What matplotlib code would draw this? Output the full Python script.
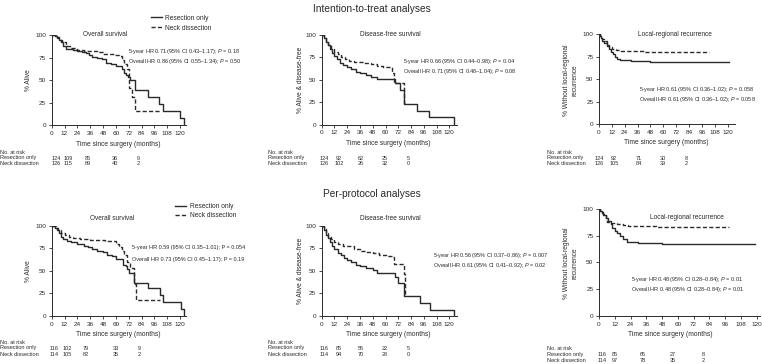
import matplotlib.pyplot as plt

W, H = 762, 364

plt.rcParams['font.family'] = ['Liberation Sans', 'DejaVu Sans']
plt.rcParams['mathtext.fontset'] = 'custom'
plt.rcParams['mathtext.rm'] = 'Liberation Sans'
plt.rcParams['mathtext.it'] = 'Liberation Sans:italic'

INK = '#2a2a2a'

# ---------- values ----------
x_ticks = [0, 12, 24, 36, 48, 60, 72, 84, 96, 108, 120]
y_ticks = [0, 25, 50, 75, 100]
arm_names = ['Resection only', 'Neck dissection']

# Intention-to-treat: overall survival (time in months, % after that time)
itt_os_res_t = [0, 3, 5, 7, 9, 11, 13, 16, 20, 24, 28, 32, 35, 38, 42, 47, 51, 55, 60, 66, 68, 69, 71, 73, 78, 90, 100, 104, 120, 124]
itt_os_res_s = [100, 99, 97, 95, 92, 88, 85, 84, 83, 82, 81, 80, 78, 76, 74, 73, 69, 68, 66, 62, 58, 56, 54, 50, 39, 31, 24, 16, 8, 0]
itt_os_nd_t = [0, 4, 7, 10, 13, 17, 24, 30, 38, 44, 48, 58, 63, 66, 68, 70, 72, 75, 78, 101]
itt_os_nd_s = [100, 98, 95, 92, 88, 86, 83, 82, 82, 81, 79, 78, 77, 72, 68, 62, 41, 31, 16, 16]

# Intention-to-treat: disease-free survival
itt_dfs_res_t = [0, 2, 4, 6, 8, 10, 12, 14, 17, 20, 24, 28, 32, 36, 42, 46, 52, 69, 74, 77, 90, 101, 124]
itt_dfs_res_s = [100, 96, 92, 88, 84, 80, 76, 73, 69, 66, 64, 62, 59, 57, 55, 53, 51, 46, 38, 23, 15, 8, 0]
itt_dfs_nd_t = [0, 2, 4, 6, 9, 12, 15, 18, 22, 26, 30, 40, 46, 52, 58, 66, 68, 77, 78]
itt_dfs_nd_s = [100, 96, 92, 88, 84, 81, 78, 75, 73, 71, 70, 69, 67, 65, 64, 57, 46, 24, 24]

# Intention-to-treat: local-regional recurrence
itt_lrr_res_t = [0, 1, 2, 3, 5, 7, 9, 11, 13, 15, 17, 20, 30, 48, 121]
itt_lrr_res_s = [100, 98, 96, 93, 90, 87, 84, 80, 78, 75, 73, 71, 70, 69, 69]
itt_lrr_nd_t = [0, 1, 3, 5, 7, 9, 12, 16, 20, 42, 103]
itt_lrr_nd_s = [100, 98, 95, 92, 88, 86, 84, 82, 81, 80, 80]

# Per-protocol: overall survival
pp_os_res_t = [0, 3, 5, 7, 9, 11, 14, 18, 24, 30, 34, 38, 42, 48, 52, 56, 60, 67, 69, 70, 72, 77, 90, 101, 104, 121, 124]
pp_os_res_s = [100, 98, 95, 92, 88, 85, 83, 82, 80, 78, 76, 74, 72, 71, 68, 66, 63, 57, 55, 52, 48, 37, 31, 23, 15, 8, 0]
pp_os_nd_t = [0, 4, 6, 9, 12, 16, 20, 26, 36, 44, 50, 60, 63, 66, 68, 70, 73, 77, 79, 101]
pp_os_nd_s = [100, 98, 95, 92, 90, 88, 86, 85, 84, 84, 83, 80, 76, 72, 68, 60, 53, 35, 18, 18]

# Per-protocol: disease-free survival
pp_dfs_res_t = [0, 2, 4, 6, 8, 10, 12, 15, 18, 21, 24, 28, 32, 36, 42, 48, 52, 69, 72, 77, 92, 102, 124]
pp_dfs_res_s = [100, 95, 90, 86, 82, 78, 74, 70, 67, 64, 62, 60, 57, 55, 53, 51, 48, 43, 36, 22, 14, 7, 0]
pp_dfs_nd_t = [0, 2, 4, 6, 9, 12, 15, 20, 24, 30, 36, 42, 48, 54, 60, 66, 68, 77, 78]
pp_dfs_nd_s = [100, 96, 92, 88, 85, 82, 80, 78, 77, 74, 72, 71, 70, 68, 66, 65, 58, 47, 22]

# Per-protocol: local-regional recurrence
pp_lrr_res_t = [0, 1, 2, 3, 5, 7, 9, 10, 12, 14, 16, 18, 21, 30, 48, 119]
pp_lrr_res_s = [100, 98, 96, 94, 91, 89, 86, 82, 79, 77, 75, 72, 69, 68, 67, 67]
pp_lrr_nd_t = [0, 1, 3, 5, 6, 9, 14, 18, 22, 43, 99]
pp_lrr_nd_s = [100, 98, 95, 91, 88, 87, 86, 85, 84, 83, 83]

# numbers at risk
itt_os_risk = [[124, 109, 85, 36, 9], [126, 115, 89, 40, 2]]
itt_dfs_risk = [[124, 92, 62, 25, 5], [126, 102, 26, 32, 0]]
itt_lrr_risk = [[124, 92, 71, 30, 8], [126, 105, 84, 39, 2]]
pp_os_risk = [[116, 102, 79, 33, 9], [114, 105, 82, 35, 2]]
pp_dfs_risk = [[116, 85, 56, 22, 5], [114, 94, 70, 28, 0]]
pp_lrr_risk = [[116, 85, 65, 27, 8], [114, 97, 78, 35, 2]]

itt_hr = [
    ['5-year HR 0.71 (95% CI 0.43–1.17); $P$ = 0.18', 'Overall HR 0.86 (95% CI 0.55–1.34); $P$ = 0.50'],
    ['5-year HR 0.66 (95% CI 0.44–0.98); $P$ = 0.04', 'Overall HR 0.71 (95% CI 0.48–1.04); $P$ = 0.08'],
    ['5-year HR 0.61 (95% CI 0.36–1.02); $P$ = 0.058', 'Overall HR 0.61 (95% CI 0.36–1.02); $P$ = 0.058'],
]
pp_hr = [
    ['5-year HR 0.59 (95% CI 0.35–1.01); P = 0.054', 'Overall HR 0.73 (95% CI 0.45–1.17); P = 0.19'],
    ['5-year HR 0.56 (95% CI 0.37–0.86); $P$ = 0.007', 'Overall HR 0.61 (95% CI 0.41–0.92); $P$ = 0.02'],
    ['5-year HR 0.48 (95% CI 0.28–0.84); $P$ = 0.01', 'Overall HR 0.48 (95% CI 0.28–0.84); $P$ = 0.01'],
]

subtitles = ['Overall survival', 'Disease-free survival', 'Local-regional recurrence']
ylabels = ['% Alive', '% Alive & disease-free', '% Without local-regional\nrecurrence']


def fx(x):
    return x / W


def fy(y):
    return 1 - y / H


fig = plt.figure(figsize=(W / 100, H / 100), dpi=100)


def panel(box, xmax, res, nd, risk, hr, sub, ylab, layout):
    left, top, right, bottom = box
    ax = fig.add_axes([fx(left), fy(bottom), (right - left) / W, (bottom - top) / H])
    ax.step(res[0], res[1], where='post', color=INK, lw=1.0, label=arm_names[0])
    ax.step(nd[0], nd[1], where='post', color=INK, lw=1.0,
            linestyle=(0, (3, 1.6)), label=arm_names[1])
    ax.set_xlim(0, xmax)
    ax.set_ylim(0, 100)
    ax.set_xticks(x_ticks)
    ax.set_yticks(y_ticks)
    for s in ['top', 'right']:
        ax.spines[s].set_visible(False)
    for s in ['left', 'bottom']:
        ax.spines[s].set_linewidth(0.7)
        ax.spines[s].set_color(INK)
    ax.tick_params(direction='out', length=2.5, width=0.6, pad=1.5,
                   labelsize=4.6, colors=INK)
    ax.patch.set_alpha(0)

    pw, ph = right - left, bottom - top
    ax.set_xlabel('Time since surgery (months)', fontsize=4.8, color=INK)
    ax.xaxis.label.set_va('center')
    ax.xaxis.set_label_coords((layout['xl'][0] - left) / pw, (bottom - layout['xl'][1]) / ph)
    ax.set_ylabel(ylab, fontsize=4.8, color=INK, linespacing=1.3)
    ax.yaxis.label.set_va('center')
    ax.yaxis.set_label_coords((layout['yl'][0] - left) / pw, (bottom - layout['yl'][1]) / ph)

    fig.text(fx(layout['sub'][0]), fy(layout['sub'][1]), sub, ha='center', va='center',
             fontsize=4.7, color=INK)
    hx, hy1, hy2 = layout['hr']
    fig.text(fx(hx), fy(hy1), hr[0], fontsize=4.0, va='center', color=INK)
    fig.text(fx(hx), fy(hy2), hr[1], fontsize=4.0, va='center', color=INK)

    rx, ry = layout['risk_lab']
    fig.text(fx(rx), fy(ry[0]), 'No. at risk', fontsize=4.0, va='center', color=INK)
    for k in range(2):
        fig.text(fx(rx), fy(ry[k + 1]), arm_names[k], fontsize=4.0, va='center', color=INK)
        for j, n in enumerate(risk[k]):
            fig.text(fx(layout['risk_x'][j]), fy(ry[k + 1]), str(n), fontsize=4.0,
                     ha='center', va='center', color=INK)
    return ax


ax1 = panel((51.7, 35, 186, 125.3), 125.5,
            (itt_os_res_t, itt_os_res_s), (itt_os_nd_t, itt_os_nd_s),
            itt_os_risk, itt_hr[0], subtitles[0], ylabels[0],
            dict(xl=(118, 144), yl=(28, 80), sub=(105, 35), hr=(128, 52, 61.5),
                 risk_lab=(0.5, (152, 158, 164)), risk_x=[56, 68.5, 88, 115, 138.5]))
panel((321.7, 34.7, 457.3, 124.7), 127.5,
      (itt_dfs_res_t, itt_dfs_res_s), (itt_dfs_nd_t, itt_dfs_nd_s),
      itt_dfs_risk, itt_hr[1], subtitles[1], ylabels[1],
      dict(xl=(388, 143.5), yl=(300, 80), sub=(390.7, 35), hr=(403, 62, 72),
           risk_lab=(268, (152, 158, 164)), risk_x=[324, 339, 361, 385, 408]))
panel((599, 34.3, 735, 124), 126.8,
      (itt_lrr_res_t, itt_lrr_res_s), (itt_lrr_nd_t, itt_lrr_nd_s),
      itt_lrr_risk, itt_hr[2], subtitles[2], ylabels[2],
      dict(xl=(666, 142), yl=(571, 80), sub=(675, 35), hr=(639, 90, 99.5),
           risk_lab=(546.7, (152, 158, 164)), risk_x=[599, 614, 639, 663, 686]))

ax4 = panel((51.7, 225.7, 186, 316), 125.5,
            (pp_os_res_t, pp_os_res_s), (pp_os_nd_t, pp_os_nd_s),
            pp_os_risk, pp_hr[0], subtitles[0], ylabels[0],
            dict(xl=(118, 335), yl=(28, 271), sub=(111.7, 218), hr=(132, 248, 259),
                 risk_lab=(0.5, (342, 348, 354)), risk_x=[54.5, 67, 86, 115.5, 139]))
panel((321.7, 225.7, 457.3, 316), 127.5,
      (pp_dfs_res_t, pp_dfs_res_s), (pp_dfs_nd_t, pp_dfs_nd_s),
      pp_dfs_risk, pp_hr[1], subtitles[1], ylabels[1],
      dict(xl=(388, 335), yl=(300, 271), sub=(390.7, 218), hr=(433, 255, 265),
           risk_lab=(268, (342, 348, 354)), risk_x=[324, 339, 361, 385, 408]))
panel((599, 208.7, 760, 316), 122.5,
      (pp_lrr_res_t, pp_lrr_res_s), (pp_lrr_nd_t, pp_lrr_nd_s),
      pp_lrr_risk, pp_hr[2], subtitles[2], ylabels[2],
      dict(xl=(670, 334), yl=(571, 263), sub=(686.7, 217.7), hr=(631, 279, 289),
           risk_lab=(546.7, (348, 354.5, 360.5)), risk_x=[601.7, 615, 643, 673, 703]))

# legends
ax1.legend(loc='upper left', bbox_to_anchor=(fx(151), fy(14.5)), bbox_transform=fig.transFigure,
           frameon=False, fontsize=4.8, handlelength=1.7, handletextpad=0.35,
           borderpad=0, borderaxespad=0, labelspacing=0.5, labelcolor=INK)
ax4.legend(loc='upper left', bbox_to_anchor=(fx(175), fy(203)), bbox_transform=fig.transFigure,
           frameon=False, fontsize=4.8, handlelength=1.7, handletextpad=0.5,
           borderpad=0, borderaxespad=0, labelspacing=0.3, labelcolor=INK)

# section titles
fig.text(fx(372), fy(8.5), 'Intention-to-treat analyses', ha='center', va='center',
         fontsize=7.3, color=INK)
fig.text(fx(372), fy(194), 'Per-protocol analyses', ha='center', va='center',
         fontsize=7.3, color=INK)

fig.savefig('out.png', dpi=100)
